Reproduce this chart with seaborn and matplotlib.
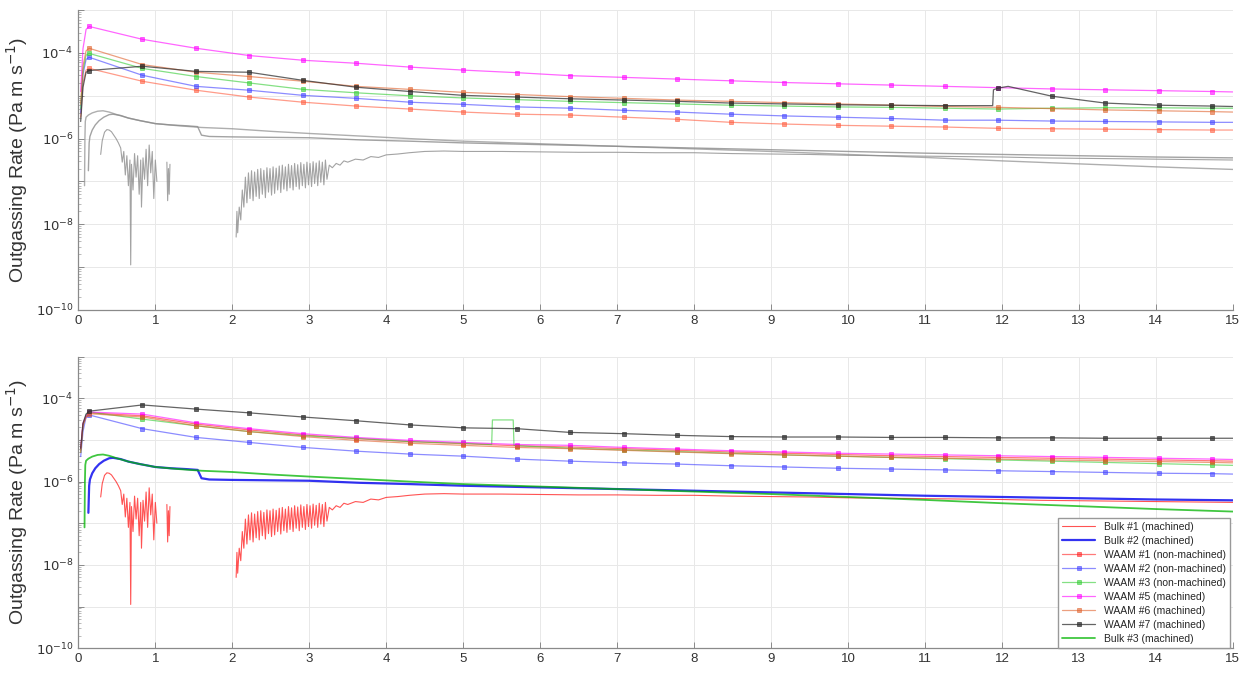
import numpy as np
import matplotlib
matplotlib.use("Agg")
import matplotlib.pyplot as plt
from matplotlib.ticker import FixedLocator, FuncFormatter, LogLocator, NullFormatter
import seaborn as sns

# time axis (h): positions where the WAAM curves carry markers
t_marks = [0.14, 0.83, 1.53, 2.22, 2.92, 3.61, 4.31, 5.00, 5.70, 6.39, 7.09,
           7.78, 8.48, 9.17, 9.87, 10.56, 11.26, 11.95, 12.65, 13.34, 14.04, 14.73]
t_rise = [0.03, 0.06, 0.10]
t_waam = t_rise + t_marks + [15.0]

# ---- upper panel, WAAM samples (log10 of rate, Pa m s^-1) ----
w1_top = [-5.5, -4.7, -4.4, -4.36, -4.66, -4.87, -5.03, -5.15, -5.24, -5.31, -5.38, -5.43,
          -5.45, -5.50, -5.55, -5.62, -5.66, -5.69, -5.71, -5.73, -5.76, -5.77, -5.78,
          -5.79, -5.80, -5.80]
w2_top = [-5.4, -4.5, -4.15, -4.10, -4.52, -4.78, -4.87, -4.99, -5.06, -5.15, -5.20, -5.26,
          -5.29, -5.34, -5.38, -5.43, -5.47, -5.50, -5.53, -5.57, -5.57, -5.59, -5.60,
          -5.61, -5.62, -5.62]
w3_top = [-5.3, -4.4, -4.05, -4.01, -4.36, -4.55, -4.70, -4.85, -4.93, -5.00, -5.05, -5.09,
          -5.13, -5.16, -5.19, -5.22, -5.24, -5.26, -5.27, -5.29, -5.31, -5.29, -5.28,
          -5.28, -5.29, -5.29]
w5_top = [-4.9, -3.9, -3.45, -3.38, -3.68, -3.89, -4.06, -4.17, -4.24, -4.33, -4.40, -4.46,
          -4.53, -4.57, -4.61, -4.65, -4.69, -4.72, -4.75, -4.78, -4.81, -4.84, -4.86,
          -4.88, -4.90, -4.91]
w6_top = [-5.2, -4.3, -3.95, -3.89, -4.27, -4.45, -4.55, -4.66, -4.78, -4.85, -4.92, -4.97,
          -5.02, -5.06, -5.10, -5.13, -5.16, -5.19, -5.22, -5.25, -5.27, -5.30, -5.33,
          -5.35, -5.37, -5.38]
t_w7_top = t_rise + t_marks[:17] + [11.88, 11.89, 11.95, 12.08] + t_marks[18:] + [15.0]
w7_top = [-5.6, -4.8, -4.45, -4.41, -4.31, -4.43, -4.45, -4.64, -4.80, -4.90, -4.99, -5.03,
          -5.07, -5.10, -5.13, -5.17, -5.19, -5.21, -5.22, -5.23, -5.23, -4.86, -4.82,
          -4.78, -5.01, -5.17, -5.22, -5.24, -5.25]

# ---- lower panel, WAAM samples ----
w1_bot = [-5.25, -4.62, -4.44, -4.35, -4.42, -4.62, -4.76, -4.88, -4.97, -5.04, -5.09, -5.14,
          -5.17, -5.21, -5.25, -5.29, -5.32, -5.35, -5.38, -5.40, -5.42, -5.44, -5.46,
          -5.48, -5.50, -5.51]
w2_bot = [-5.4, -4.8, -4.45, -4.40, -4.73, -4.94, -5.06, -5.18, -5.27, -5.34, -5.39, -5.46,
          -5.51, -5.55, -5.58, -5.62, -5.65, -5.68, -5.70, -5.72, -5.74, -5.76, -5.78,
          -5.80, -5.81, -5.82]
t_w3_bot = t_rise + t_marks[:8] + [5.37, 5.38, 5.65, 5.66] + t_marks[8:] + [15.0]
w3_bot = [-5.3, -4.65, -4.40, -4.33, -4.50, -4.66, -4.80, -4.90, -4.96, -5.04, -5.08,
          -5.11, -4.52, -4.52, -5.13, -5.14, -5.20, -5.24, -5.28, -5.32, -5.36, -5.39,
          -5.42, -5.45, -5.48, -5.51, -5.54, -5.57, -5.60, -5.61]
w5_bot = [-5.2, -4.6, -4.42, -4.33, -4.38, -4.59, -4.73, -4.85, -4.94, -5.01, -5.06, -5.11,
          -5.13, -5.18, -5.22, -5.26, -5.29, -5.32, -5.34, -5.36, -5.38, -5.40, -5.42,
          -5.44, -5.46, -5.47]
w6_bot = [-5.3, -4.65, -4.46, -4.37, -4.45, -4.66, -4.80, -4.92, -5.01, -5.08, -5.13, -5.18,
          -5.21, -5.25, -5.29, -5.33, -5.36, -5.39, -5.42, -5.44, -5.46, -5.48, -5.50,
          -5.52, -5.54, -5.55]
w7_bot = [-5.2, -4.6, -4.38, -4.31, -4.16, -4.26, -4.35, -4.45, -4.54, -4.64, -4.71, -4.73,
          -4.82, -4.85, -4.89, -4.92, -4.93, -4.93, -4.94, -4.94, -4.95, -4.95, -4.96,
          -4.96, -4.96, -4.96]

# ---- bulk samples (same runs in both panels) ----
b1_t = [0.29, 0.31, 0.34, 0.37, 0.40, 0.43, 0.46, 0.49, 0.52, 0.55, 0.57, 0.59, 0.61, 0.63,
        0.65, 0.67, 0.68, 0.69, 0.71, 0.73, 0.75, 0.77, 0.79, 0.81, 0.82, 0.84, 0.86, 0.88,
        0.90, 0.92, 0.94, 0.96, 0.98, 1.00, 1.02, 1.08,
        1.15, 1.16, 1.17, 1.18, 1.19, 1.60,
        2.05, 2.06, 2.07, 2.09, 2.11, 2.13, 2.15, 2.17, 2.19,
        2.21, 2.23, 2.25, 2.27, 2.29, 2.31, 2.33, 2.35, 2.37, 2.39, 2.41, 2.43, 2.45, 2.47,
        2.49, 2.51, 2.53, 2.55, 2.57, 2.59, 2.61, 2.63, 2.65, 2.67, 2.69, 2.71, 2.73, 2.75,
        2.77, 2.79, 2.81, 2.83, 2.85, 2.87, 2.89, 2.91, 2.93, 2.95, 2.97, 2.99, 3.01, 3.03,
        3.05, 3.07, 3.09, 3.11, 3.13, 3.15, 3.17, 3.19, 3.21,
        3.23, 3.26, 3.30, 3.35, 3.40, 3.45, 3.50, 3.60, 3.70, 3.80, 3.90, 4.00, 4.15, 4.30,
        4.50, 4.75, 5.0, 5.5, 6.0, 6.5, 7.0, 7.5, 8.0, 8.5, 9.0, 9.5, 10.0, 10.5, 11.0,
        11.5, 12.0, 12.5, 13.0, 13.5, 14.0, 14.5, 15.0]
b1_log = [-6.37, -6.05, -5.85, -5.79, -5.80, -5.84, -5.92, -6.00, -6.10, -6.22, -6.55, -6.30,
          -6.85, -6.40, -7.10, -6.50, -8.95, -6.60, -7.20, -6.35, -6.90, -6.40, -7.30, -6.50,
          -7.60, -6.45, -6.95, -6.25, -7.10, -6.15, -6.80, -6.30, -7.40, -6.50, -7.00, np.nan,
          -6.55, -7.45, -6.70, -7.30, -6.60, np.nan,
          -8.30, -7.70, -8.20, -7.60, -7.90, -7.20, -7.60, -6.90, -7.50,
          -6.80, -7.40, -6.75, -7.45, -6.78, -7.35, -6.72, -7.40, -6.70, -7.30, -6.74, -7.38,
          -6.68, -7.25, -6.70, -7.32, -6.66, -7.28, -6.69, -7.20, -6.64, -7.26, -6.62, -7.18,
          -6.66, -7.22, -6.60, -7.15, -6.63, -7.20, -6.58, -7.12, -6.61, -7.18, -6.56, -7.10,
          -6.60, -7.15, -6.55, -7.08, -6.58, -7.12, -6.54, -7.05, -6.57, -7.10, -6.52, -7.02,
          -6.55, -7.08, -6.50,
          -6.95, -6.62, -6.68, -6.58, -6.62, -6.52, -6.55, -6.48, -6.50, -6.42, -6.44, -6.38,
          -6.36, -6.33, -6.30, -6.29, -6.30, -6.30, -6.31, -6.32, -6.32, -6.33, -6.33, -6.35,
          -6.36, -6.37, -6.39, -6.40, -6.41, -6.42, -6.43, -6.45, -6.46, -6.47, -6.48, -6.49,
          -6.50]
b2_t = [0.13, 0.14, 0.15, 0.18, 0.22, 0.27, 0.33, 0.40, 0.45, 0.55, 0.65, 0.80, 1.00, 1.20,
        1.40, 1.55, 1.60, 1.70, 2.00, 2.50, 3.00, 3.66, 4.3, 5.0, 6.0, 7.0, 8.0, 9.0, 10.0,
        11.0, 12.0, 13.0, 14.0, 15.0]
b2_log = [-6.75, -6.10, -5.95, -5.80, -5.68, -5.58, -5.50, -5.44, -5.43, -5.46, -5.52, -5.58,
          -5.65, -5.68, -5.70, -5.72, -5.92, -5.95, -5.96, -5.97, -5.98, -6.03, -6.06, -6.10,
          -6.14, -6.18, -6.22, -6.26, -6.30, -6.34, -6.37, -6.40, -6.43, -6.45]
b3_t = [0.08, 0.085, 0.09, 0.10, 0.13, 0.18, 0.25, 0.32, 0.40, 0.50, 0.65, 0.80, 1.00, 1.30,
        1.60, 2.00, 2.50, 3.00, 3.66, 4.3, 5.0, 6.0, 7.0, 8.0, 9.0, 10.0, 11.0, 12.0, 13.0,
        14.0, 15.0]
b3_log = [-7.10, -6.00, -5.60, -5.50, -5.45, -5.40, -5.36, -5.35, -5.38, -5.44, -5.52, -5.58,
          -5.65, -5.70, -5.74, -5.77, -5.83, -5.88, -5.94, -6.00, -6.06, -6.12, -6.18, -6.24,
          -6.30, -6.37, -6.44, -6.52, -6.59, -6.66, -6.72]

legend_order = ["Bulk #1 (machined)", "Bulk #2 (machined)", "WAAM #1 (non-machined)",
                "WAAM #2 (non-machined)", "WAAM #3 (non-machined)", "WAAM #5 (machined)",
                "WAAM #6 (machined)", "WAAM #7 (machined)", "Bulk #3 (machined)"]

sns.set_theme(style="white", rc={"xtick.direction": "in", "ytick.direction": "in",
                                 "xtick.bottom": True, "ytick.left": True})
plt.rcParams["font.family"] = ["Liberation Sans", "DejaVu Sans"]


def line(ax, t, logv, color, label, marks=True, lw=0.9, alpha=0.6):
    t = np.asarray(t, dtype=float)
    kw = {}
    if marks:
        kw = dict(marker="s", markersize=3.5, markevery=list(np.flatnonzero(np.isin(t, t_marks))),
                  markeredgecolor=color, markeredgewidth=0.6)
    sns.lineplot(x=t, y=10 ** np.asarray(logv, dtype=float), ax=ax, color=color, lw=lw,
                 alpha=alpha, label=label, estimator=None, sort=False, errorbar=None, **kw)


def bulk1(ax, color, alpha, label):
    # the first bulk run has gaps (nan) where the gauge dropped out
    t = np.asarray(b1_t)
    v = np.asarray(b1_log)
    cuts = np.flatnonzero(np.isnan(v))
    start = 0
    for k, c in enumerate(list(cuts) + [len(v)]):
        seg_t, seg_v = t[start:c], v[start:c]
        start = c + 1
        line(ax, seg_t, seg_v, color, label if k == 0 else None, marks=False, lw=0.8, alpha=alpha)


fig = plt.figure(figsize=(12.44, 6.78), dpi=100)
ax_top = fig.add_axes([0.063, 0.543, 0.928, 0.442])
ax_bot = fig.add_axes([0.063, 0.044, 0.928, 0.430])

# upper panel: WAAM in colour, bulk runs in grey for reference
gray = "#8c8c8c"
bulk1(ax_top, gray, 0.8, None)
line(ax_top, b2_t, b2_log, gray, None, marks=False, lw=1.0, alpha=0.8)
line(ax_top, b3_t, b3_log, gray, None, marks=False, lw=1.0, alpha=0.7)
line(ax_top, t_waam, w1_top, "#ff5a3c", None)
line(ax_top, t_waam, w2_top, "#4040ff", None)
line(ax_top, t_waam, w3_top, "#33cc33", None)
line(ax_top, t_waam, w5_top, "#ff00ff", None)
line(ax_top, t_waam, w6_top, "#e0602a", None)
line(ax_top, t_w7_top, w7_top, "#303030", None, alpha=0.75)

# lower panel
bulk1(ax_bot, "#ff1a1a", 0.75, legend_order[0])
line(ax_bot, b2_t, b2_log, "#0000ee", legend_order[1], marks=False, lw=1.6, alpha=0.8)
line(ax_bot, t_waam, w1_bot, "#ff2020", legend_order[2])
line(ax_bot, t_waam, w2_bot, "#4040ff", legend_order[3])
line(ax_bot, t_w3_bot, w3_bot, "#33cc33", legend_order[4])
line(ax_bot, t_waam, w5_bot, "#ff00ff", legend_order[5])
line(ax_bot, t_waam, w6_bot, "#e0602a", legend_order[6])
line(ax_bot, t_waam, w7_bot, "#303030", legend_order[7], alpha=0.75)
line(ax_bot, b3_t, b3_log, "#00b400", legend_order[8], marks=False, lw=1.3, alpha=0.75)

decades = [10.0 ** e for e in range(-10, -2)]
for ax in (ax_top, ax_bot):
    ax.set_yscale("log")
    ax.set_xlim(0, 15)
    ax.set_ylim(1e-10, 1e-3)
    ax.set_xticks(range(0, 16))
    ax.yaxis.set_major_locator(FixedLocator(decades))
    ax.yaxis.set_major_formatter(FuncFormatter(
        lambda v, p: r"$10^{%d}$" % round(np.log10(v)) if round(np.log10(v)) % 2 == 0 else ""))
    ax.yaxis.set_minor_locator(LogLocator(base=10, subs=np.arange(2, 10), numticks=20))
    ax.yaxis.set_minor_formatter(NullFormatter())
    ax.grid(True, which="major", color="#e8e8e8", lw=0.7)
    for s in ("top", "right"):
        ax.spines[s].set_visible(False)
    for s in ("left", "bottom"):
        ax.spines[s].set_color("#8a8a8a")
        ax.spines[s].set_linewidth(0.9)
    ax.tick_params(which="major", length=4, width=0.7, color="#8a8a8a", labelsize=9.5,
                   labelcolor="#333333")
    ax.tick_params(which="minor", length=2, width=0.5, color="#a0a0a0")
    ax.set_xlabel("")
    ax.set_ylabel(r"Outgassing Rate (Pa m s$^{-1}$)", fontsize=14, color="#333333")

if ax_top.get_legend() is not None:
    ax_top.get_legend().remove()

handles, labels = ax_bot.get_legend_handles_labels()
lookup = dict(zip(labels, handles))
ax_bot.legend([lookup[k] for k in legend_order], legend_order, loc="lower right",
              bbox_to_anchor=(1.0, -0.01), fontsize=7.5, handlelength=3.2, frameon=True,
              framealpha=1.0, edgecolor="#999999", fancybox=False, borderaxespad=0.3,
              labelspacing=0.38)

fig.savefig("out.png", dpi=100)
